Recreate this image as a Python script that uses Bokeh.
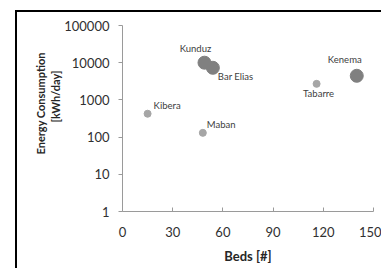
from bokeh.plotting import figure
from bokeh.models import (ColumnDataSource, FixedTicker, PrintfTickFormatter,
                          Range1d, Label, Title)
from bokeh.embed import file_html
from bokeh.resources import INLINE

# ---- data ----
hospitals = ["Kibera", "Kunduz", "Bar Elias", "Maban", "Tabarre", "Kenema"]
beds = [15, 49, 54, 48, 116, 140]
energy_kwh_day = [425, 10000, 7300, 130, 2700, 4450]
bubble_class = ["small", "large", "large", "small", "small", "large"]

x_ticks = [0, 30, 60, 90, 120, 150]
y_ticks = [1, 10, 100, 1000, 10000, 100000]

x_title = "Beds [#]"
y_title_lines = ["Energy Consumption", "[kWh/day]"]

FONT = "Lato"

size_map = {"small": 7, "large": 13}
color_map = {"small": "#a6a6a6", "large": "#808080"}

src = ColumnDataSource(dict(
    x=beds, y=energy_kwh_day, name=hospitals,
    size=[size_map[c] for c in bubble_class],
    color=[color_map[c] for c in bubble_class],
))

p = figure(width=366, height=258, output_backend="svg", toolbar_location=None,
           x_range=Range1d(x_ticks[0], x_ticks[-1]),
           y_range=Range1d(y_ticks[0], y_ticks[-1]),
           y_axis_type="log",
           min_border_left=105, min_border_right=10,
           min_border_top=13, min_border_bottom=59)
# black frame: only its top and left edges fall inside the window
p.margin = (10, 0, 0, 15)
p.styles = {"border-left": "2.5px solid black",
            "border-top": "2.5px solid black"}
p.outline_line_color = None
p.xgrid.visible = False
p.ygrid.visible = False
p.background_fill_color = "white"
p.border_fill_color = "white"

p.scatter("x", "y", source=src, size="size", fill_color="color",
          line_color="color")

# labels beside points (offsets in screen px)
label_style = {
    "Kibera": (6, 8, "left"),
    "Kunduz": (-9, 14, "center"),
    "Bar Elias": (5, -9, "left"),
    "Maban": (4, 8, "left"),
    "Tabarre": (2, -10, "center"),
    "Kenema": (-12, 16, "center"),
}
for name, bx, ey in zip(hospitals, beds, energy_kwh_day):
    dx, dy, align = label_style[name]
    p.add_layout(Label(x=bx, y=ey, x_offset=dx, y_offset=dy, text=name,
                       text_align=align, text_baseline="middle",
                       text_font=FONT, text_font_size="9.5px",
                       text_color="#404040"))

# axes
axis_col = "#9a9a9a"
for ax in (p.xaxis[0], p.yaxis[0]):
    ax.axis_line_color = axis_col
    ax.major_tick_line_color = axis_col
    ax.minor_tick_line_color = None
    ax.major_label_text_font = FONT
    ax.major_label_text_font_size = "13px"
    ax.major_label_text_color = "#303030"
    ax.axis_label_text_font = FONT
    ax.axis_label_text_font_style = "bold"
    ax.axis_label_text_font_size = "13px"
    ax.axis_label_text_color = "#262626"

p.xaxis.ticker = FixedTicker(ticks=x_ticks)
p.xaxis.major_tick_in = 4
p.xaxis.major_tick_out = 0
p.xaxis.major_label_standoff = 15
p.xaxis.axis_label = x_title
p.xaxis.axis_label_standoff = 8

p.yaxis.ticker = FixedTicker(ticks=y_ticks)
p.yaxis.formatter = PrintfTickFormatter(format="%d")
p.yaxis.major_tick_in = 0
p.yaxis.major_tick_out = 4
p.yaxis.major_label_standoff = 9

# y title: two rotated lines in the left panel, centred above frame centre
# (aligned from the bottom of the frame, shifted up by `offset` px)
title_offsets = {"Energy Consumption": 57, "[kWh/day]": 89}
for line in reversed(y_title_lines):
    p.add_layout(Title(text=line, align="left", offset=title_offsets[line],
                       standoff=0, text_font=FONT, text_font_style="bold",
                       text_font_size="11px", text_color="#262626"), "left")

open("out.html", "w").write(file_html(p, INLINE))
